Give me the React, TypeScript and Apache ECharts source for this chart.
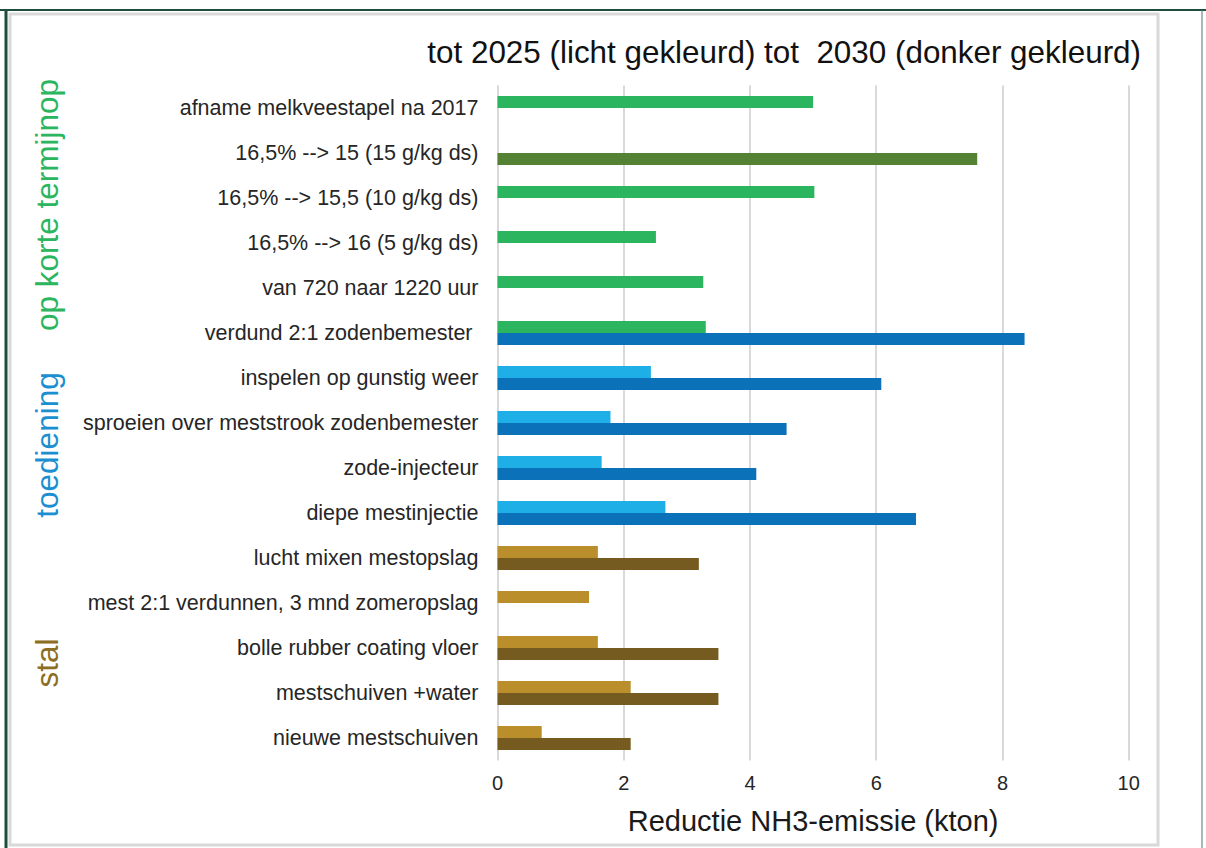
import React, { useEffect, useRef } from "react";
import * as echarts from "echarts";

const categories = [
  "afname melkveestapel na 2017",
  "16,5% --> 15 (15 g/kg ds)",
  "16,5% --> 15,5 (10 g/kg ds)",
  "16,5% --> 16 (5 g/kg ds)",
  "van 720 naar 1220 uur",
  "verdund 2:1 zodenbemester ",
  "inspelen op gunstig weer",
  "sproeien over meststrook zodenbemester",
  "zode-injecteur",
  "diepe mestinjectie",
  "lucht mixen mestopslag",
  "mest 2:1 verdunnen, 3 mnd zomeropslag",
  "bolle rubber coating vloer",
  "mestschuiven +water",
  "nieuwe mestschuiven",
];

// tot 2025 (licht gekleurd)
const light2025 = [5.0, null, 5.02, 2.51, 3.26, 3.3, 2.43, 1.79, 1.65, 2.66, 1.59, 1.45, 1.59, 2.11, 0.7];
// tot 2030 (donker gekleurd)
const dark2030 = [null, 7.6, null, null, null, 8.35, 6.08, 4.58, 4.1, 6.63, 3.19, null, 3.5, 3.5, 2.11];

const lightGroup = ["kort", "kort", "kort", "kort", "kort", "kort", "toe", "toe", "toe", "toe", "stal", "stal", "stal", "stal", "stal"];
const darkGroup = ["kort", "kort", "kort", "kort", "kort", "toe", "toe", "toe", "toe", "toe", "stal", "stal", "stal", "stal", "stal"];

const xTicks = [0, 2, 4, 6, 8, 10];

const palette: Record<string, { light: string; dark: string; label: string }> = {
  kort: { light: "#2BB55F", dark: "#548235", label: "#2BB55F" },
  toe: { light: "#1DAFE5", dark: "#0B72B9", label: "#1C8FD0" },
  stal: { light: "#B98E2B", dark: "#765B20", label: "#8C6D22" },
};

const groupLabels = [
  { text: "op korte termijnop", key: "kort", y: 205 },
  { text: "toediening", key: "toe", y: 445 },
  { text: "stal", key: "stal", y: 663 },
];

export default function App() {
  const ref = useRef<HTMLDivElement>(null);
  useEffect(() => {
    if (!ref.current) return;
    const chart = echarts.init(ref.current, null, { renderer: "svg" });
    const font = "Liberation Sans, Arial, sans-serif";
    chart.setOption({
      animation: false,
      backgroundColor: "#ffffff",
      grid: { left: 497.5, right: 77.3, top: 85.5, bottom: 87.5, containLabel: false },
      xAxis: {
        type: "value",
        min: xTicks[0],
        max: xTicks[xTicks.length - 1],
        interval: 2,
        axisLine: { show: false },
        axisTick: { show: false },
        splitLine: { show: true, lineStyle: { color: "#D9D9D9", width: 2 } },
        axisLabel: { fontSize: 20, color: "#262626", fontFamily: font, margin: 12 },
        name: "Reductie NH3-emissie (kton)",
        nameLocation: "middle",
        nameGap: 46,
        nameTextStyle: { fontSize: 29, color: "#1a1a1a", fontFamily: font },
      },
      yAxis: {
        type: "category",
        inverse: true,
        data: categories,
        axisLine: { show: false },
        axisTick: { show: false },
        splitLine: { show: false },
        axisLabel: { fontSize: 21.5, color: "#262626", fontFamily: font, margin: 19 },
      },
      series: [
        {
          name: "tot 2025",
          type: "bar",
          barWidth: 12,
          barGap: "0%",
          data: light2025.map((v, i) => ({ value: v, itemStyle: { color: palette[lightGroup[i]].light } })),
        },
        {
          name: "tot 2030",
          type: "bar",
          barWidth: 12,
          barGap: "0%",
          data: dark2030.map((v, i) => ({ value: v, itemStyle: { color: palette[darkGroup[i]].dark } })),
        },
      ],
      graphic: [
        { type: "line", shape: { x1: 0, y1: 10, x2: 1206, y2: 10 }, style: { stroke: "#1E4D3F", lineWidth: 2 } },
        { type: "line", shape: { x1: 6, y1: 10, x2: 6, y2: 848 }, style: { stroke: "#1E4D3F", lineWidth: 3 } },
        { type: "line", shape: { x1: 1202, y1: 10, x2: 1202, y2: 848 }, style: { stroke: "#4F7468", lineWidth: 1 } },
        { type: "rect", shape: { x: 10, y: 14, width: 1148, height: 831 }, style: { fill: "none", stroke: "#D9D9D9", lineWidth: 3 } },
        {
          type: "text",
          x: 1141,
          y: 52,
          style: {
            text: "tot 2025 (licht gekleurd) tot  2030 (donker gekleurd)",
            fontSize: 31.4,
            fontFamily: font,
            fill: "#111111",
            align: "right",
            verticalAlign: "middle",
          },
        },
        ...groupLabels.map((g) => ({
          type: "text",
          x: 47,
          y: g.y,
          rotation: Math.PI / 2,
          style: {
            text: g.text,
            fontSize: 31.5,
            fontFamily: font,
            fill: palette[g.key].label,
            align: "center",
            verticalAlign: "middle",
          },
        })),
      ],
    });
    return () => chart.dispose();
  }, []);
  return (
    <div
      ref={ref}
      style={{ position: "fixed", left: 0, top: 0, width: 1206, height: 848 }}
    />
  );
}
